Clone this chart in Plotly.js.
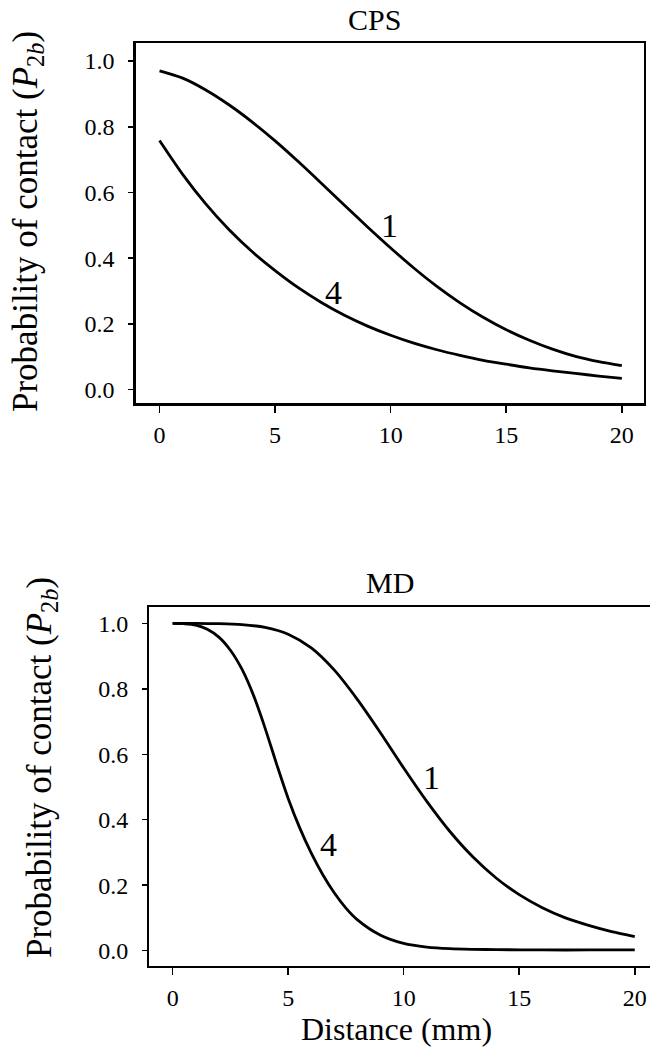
<!DOCTYPE html>
<html>
<head>
<meta charset="utf-8">
<script src="https://cdn.plot.ly/plotly-3.0.1.min.js"></script>
<style>
html,body{margin:0;padding:0;background:#fff;overflow:hidden;}
#chart{width:650px;height:1051px;}
</style>
</head>
<body>
<div id="chart"></div>
<script>
// ---- data ----
const distance = [0,1,2,3,4,5,6,7,8,9,10,11,12,13,14,15,16,17,18,19,20];
const cpsCurve1 = [0.970,0.948,0.912,0.867,0.815,0.757,0.694,0.628,0.561,0.495,0.431,0.370,0.314,0.264,0.220,0.182,0.150,0.123,0.101,0.085,0.073];
const cpsCurve4 = [0.758,0.655,0.565,0.487,0.420,0.362,0.310,0.265,0.226,0.193,0.165,0.141,0.121,0.104,0.089,0.077,0.066,0.057,0.049,0.041,0.034];
const mdCurve1 = [1.000,1.000,0.999,0.996,0.988,0.967,0.925,0.857,0.767,0.665,0.558,0.456,0.364,0.286,0.222,0.171,0.131,0.100,0.077,0.058,0.043];
const mdX4 = [0,0.5,1,1.5,2,2.5,3,3.5,4,4.5,5,5.5,6,6.5,7,7.5,8,9,10,11,12,13,14,16,18,20];
const mdCurve4 = [1.000,0.999,0.995,0.982,0.958,0.918,0.860,0.780,0.680,0.570,0.465,0.375,0.298,0.232,0.176,0.130,0.094,0.047,0.022,0.011,0.006,0.004,0.003,0.002,0.002,0.002];
const xTicks = [0,5,10,15,20];
const yTicks = [0,0.2,0.4,0.6,0.8,1.0];
const yTickText = ["0.0","0.2","0.4","0.6","0.8","1.0"];
const panelTitles = ["CPS","MD"];
const curveLabels = ["1","4"];
const yTitle = "Probability of contact (<i>P</i><sub>2<i>b</i></sub>)";
const xTitle = "Distance (mm)";

const FONT = "Liberation Serif, Times New Roman, serif";
const W = 650, H = 1051;
const line = {color:"#000", width:2.8, shape:"spline", smoothing:0.8};

const traces = [
  {x:distance, y:cpsCurve1, xaxis:"x", yaxis:"y", mode:"lines", line:line, showlegend:false, hoverinfo:"none"},
  {x:distance, y:cpsCurve4, xaxis:"x", yaxis:"y", mode:"lines", line:line, showlegend:false, hoverinfo:"none"},
  {x:distance, y:mdCurve1, xaxis:"x2", yaxis:"y2", mode:"lines", line:line, showlegend:false, hoverinfo:"none"},
  {x:mdX4, y:mdCurve4, xaxis:"x2", yaxis:"y2", mode:"lines", line:line, showlegend:false, hoverinfo:"none"}
];

function xa(domain, range, mirror){
  return {domain:domain, range:range, tickvals:xTicks, ticks:"outside", ticklen:7, tickwidth:1.5,
    tickcolor:"#000", showline:true, linecolor:"#000", linewidth:2.2, mirror:mirror,
    showgrid:false, zeroline:false, ticklabelstandoff:2,
    tickfont:{family:FONT, size:24, color:"#000"}, fixedrange:true};
}
function ya(domain, range, mirror){
  return {domain:domain, range:range, tickvals:yTicks, ticktext:yTickText, ticks:"outside", ticklen:5, tickwidth:1.5,
    tickcolor:"#000", showline:true, linecolor:"#000", linewidth:2.2, mirror:mirror,
    showgrid:false, zeroline:false, ticklabelstandoff:9,
    tickfont:{family:FONT, size:24, color:"#000"}, fixedrange:true};
}

function ann(text, xref, yref, x, y, size, angle){
  return {text:text, xref:xref, yref:yref, x:x, y:y, showarrow:false,
    xanchor:"center", yanchor:"middle", textangle:angle||0,
    font:{family:FONT, size:size, color:"#000"}};
}

const layout = {
  width:W, height:H, margin:{l:0,r:0,t:0,b:0},
  paper_bgcolor:"#fff", plot_bgcolor:"#fff",
  font:{family:FONT, color:"#000"},
  xaxis: xa([135.5/W, 644/W], [-1.04, 20.96], true),
  yaxis: Object.assign(ya([1-403.3/H, 1-43/H], [-0.042, 1.055], true), {anchor:"x"}),
  xaxis2: Object.assign(xa([149.3/W, 1], [-1.01, 20.66], true), {anchor:"y2"}),
  yaxis2: Object.assign(ya([1-966/H, 1-606.7/H], [-0.047, 1.051], false), {anchor:"x2"}),
  annotations: [
    ann(panelTitles[0], "paper", "paper", 375/W, 1-20/H, 30),
    ann(panelTitles[1], "paper", "paper", 390/W, 1-582/H, 30),
    ann(yTitle, "paper", "paper", 28/W, 1-222/H, 35, -90),
    ann(yTitle, "paper", "paper", 41/W, 1-768/H, 35, -90),
    ann(xTitle, "paper", "paper", 396/W, 1-1029/H, 32),
    ann(curveLabels[0], "x", "y", 9.96, 0.50, 34),
    ann(curveLabels[1], "x", "y", 7.53, 0.294, 34),
    ann(curveLabels[0], "x2", "y2", 11.21, 0.528, 34),
    ann(curveLabels[1], "x2", "y2", 6.73, 0.323, 34)
  ]
};

Plotly.newPlot("chart", traces, layout, {staticPlot:true, displayModeBar:false});
</script>
</body>
</html>
